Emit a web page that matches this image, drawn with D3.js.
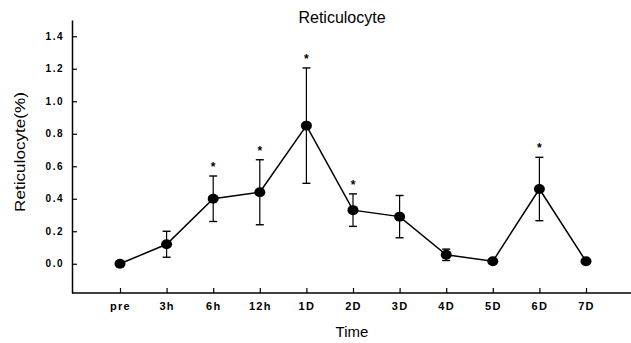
<!DOCTYPE html>
<html>
<head>
<meta charset="utf-8">
<script src="https://cdn.jsdelivr.net/npm/d3@7"></script>
<style>
  body { margin: 0; background: #fff; }
  text { font-family: Arial, "Liberation Sans", sans-serif; fill: #000; }
</style>
</head>
<body>
<div id="chart"></div>
<script>
// data
var times = ["pre", "3h", "6h", "12h", "1D", "2D", "3D", "4D", "5D", "6D", "7D"];
var means = [0.0, 0.12, 0.40, 0.44, 0.85, 0.33, 0.29, 0.055, 0.015, 0.46, 0.015];
var errs  = [0, 0.08, 0.14, 0.20, 0.355, 0.10, 0.13, 0.035, 0, 0.195, 0];
var signif = [false, false, true, true, true, true, false, false, false, true, false];
var yTicks = [0.0, 0.2, 0.4, 0.6, 0.8, 1.0, 1.2, 1.4];

var data = times.map(function(t, i) {
  return {t: t, m: means[i], e: errs[i], s: signif[i]};
});

// set the dimensions and margins of the graph
var margin = {top: 20, right: 0, bottom: 50, left: 72},
    width = 631 - margin.left - margin.right,
    height = 343 - margin.top - margin.bottom;

var svgRoot = d3.select("#chart")
    .append("svg")
    .attr("width", width + margin.left + margin.right)
    .attr("height", height + margin.top + margin.bottom);

var svg = svgRoot.append("g")
    .attr("transform", "translate(" + margin.left + "," + margin.top + ")");

// scales
var x = d3.scalePoint()
    .domain(times)
    .range([48, 514]);

var y = d3.scaleLinear()
    .domain([-0.18, 1.5])
    .range([height, 0]);

// X axis
var xAxis = svg.append("g")
    .attr("transform", "translate(0," + height + ")")
    .call(d3.axisBottom(x).tickSizeInner(-5).tickSizeOuter(0).tickPadding(9));
xAxis.select(".domain").remove();
xAxis.append("line")
    .attr("x1", 0).attr("x2", width)
    .attr("stroke", "#000").attr("stroke-width", 1.5);
xAxis.selectAll(".tick line").attr("stroke-width", 1.2);
xAxis.selectAll("text")
    .style("font-size", "11px")
    .style("font-weight", "bold")
    .style("letter-spacing", "1.3px")
    .attr("fill", "#000");

// Y axis
var yAxis = svg.append("g")
    .call(d3.axisLeft(y).tickValues(yTicks).tickFormat(d3.format(".1f"))
      .tickSizeInner(-5).tickSizeOuter(0).tickPadding(8));
yAxis.select(".domain").attr("stroke-width", 1.5);
yAxis.selectAll(".tick line").attr("stroke-width", 1.2);
yAxis.selectAll("text")
    .style("font-size", "10px")
    .style("font-weight", "bold")
    .style("letter-spacing", "1.5px")
    .attr("fill", "#000");

// error bars
var eb = svg.selectAll(".err")
    .data(data.filter(function(d) { return d.e > 0; }))
    .enter().append("g").attr("class", "err");
eb.append("line")
    .attr("x1", function(d) { return x(d.t); })
    .attr("x2", function(d) { return x(d.t); })
    .attr("y1", function(d) { return y(d.m + d.e); })
    .attr("y2", function(d) { return y(d.m - d.e); })
    .attr("stroke", "#000").attr("stroke-width", 1.2);
[1, -1].forEach(function(sgn) {
  eb.append("line")
    .attr("x1", function(d) { return x(d.t) - 4; })
    .attr("x2", function(d) { return x(d.t) + 4; })
    .attr("y1", function(d) { return y(d.m + sgn * d.e); })
    .attr("y2", function(d) { return y(d.m + sgn * d.e); })
    .attr("stroke", "#000").attr("stroke-width", 1.4);
});

// line
svg.append("path")
    .datum(data)
    .attr("fill", "none")
    .attr("stroke", "#000")
    .attr("stroke-width", 1.5)
    .attr("d", d3.line()
      .x(function(d) { return x(d.t); })
      .y(function(d) { return y(d.m); }));

// points
svg.selectAll(".pt")
    .data(data)
    .enter().append("ellipse")
    .attr("cx", function(d) { return x(d.t); })
    .attr("cy", function(d) { return y(d.m); })
    .attr("rx", 5.5)
    .attr("ry", 5)
    .attr("fill", "#000");

// asterisks
svg.selectAll(".star")
    .data(data.filter(function(d) { return d.s; }))
    .enter().append("text")
    .attr("x", function(d) { return x(d.t); })
    .attr("y", function(d) { return y(d.m + d.e) - 5; })
    .attr("text-anchor", "middle")
    .style("font-size", "12px")
    .style("font-weight", "bold")
    .text("*");

// title and axis labels
svgRoot.append("text")
    .attr("x", 342)
    .attr("y", 23)
    .attr("text-anchor", "middle")
    .style("font-size", "16px")
    .text("Reticulocyte");

svgRoot.append("text")
    .attr("x", 352)
    .attr("y", 337)
    .attr("text-anchor", "middle")
    .style("font-size", "15px")
    .text("Time");

svgRoot.append("text")
    .attr("transform", "translate(25,152)rotate(-90)")
    .attr("text-anchor", "middle")
    .attr("textLength", 120)
    .attr("lengthAdjust", "spacingAndGlyphs")
    .style("font-size", "15px")
    .text("Reticulocyte(%)");
</script>
</body>
</html>
